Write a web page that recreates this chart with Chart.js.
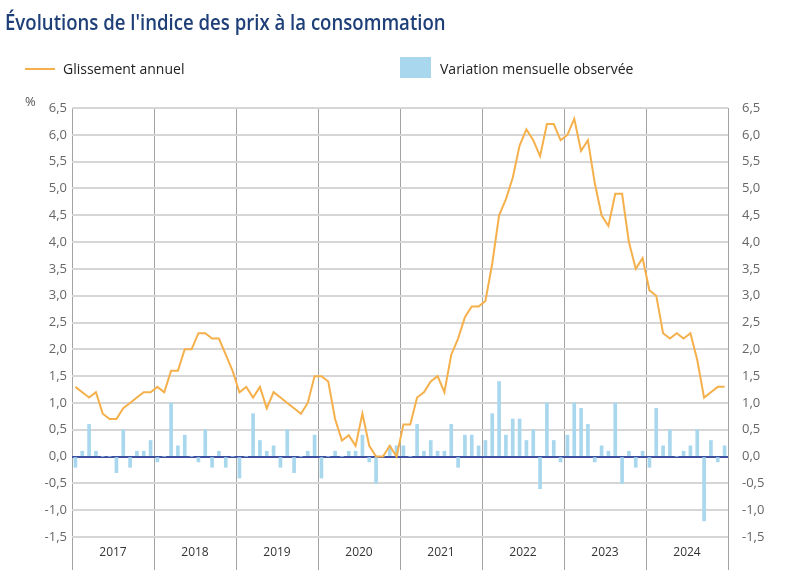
<!DOCTYPE html>
<html>
<head>
<meta charset="utf-8">
<script src="https://cdn.jsdelivr.net/npm/chart.js"></script>
<style>
  body { margin: 0; background: #fff; font-family: "Open Sans", sans-serif; }
  #wrap { position: relative; width: 800px; height: 582px; }
  #title { position: absolute; left: 5px; top: 8px; font-size: 21px; font-weight: 600; color: #1f3f78;
           transform: scaleX(0.885); transform-origin: left top; white-space: nowrap; }
  .leg { position: absolute; top: 59px; font-size: 14px; color: #222; white-space: nowrap; }
  .leg i { position: absolute; display: block; }
  #pct { position: absolute; left: 25px; top: 92px; font-size: 13px; color: #555; }
</style>
</head>
<body>
<div id="wrap">
  <div id="title">Évolutions de l'indice des prix à la consommation</div>
  <div class="leg" style="left:63px;"><i style="left:-38px;top:9px;width:30px;height:2px;background:#f5b04b;"></i>Glissement annuel</div>
  <div class="leg" style="left:440px;"><i style="left:-40px;top:-2px;width:31px;height:21px;background:#a9d7ee;"></i>Variation mensuelle observée</div>
  <div id="pct">%</div>
  <canvas id="grafik" width="800" height="582"></canvas>
</div>
<script>
const annees = ['2017', '2018', '2019', '2020', '2021', '2022', '2023', '2024'];

const glissement = [
  1.3, 1.2, 1.1, 1.2, 0.8, 0.7, 0.7, 0.9, 1.0, 1.1, 1.2, 1.2,
  1.3, 1.2, 1.6, 1.6, 2.0, 2.0, 2.3, 2.3, 2.2, 2.2, 1.9, 1.6,
  1.2, 1.3, 1.1, 1.3, 0.9, 1.2, 1.1, 1.0, 0.9, 0.8, 1.0, 1.5,
  1.5, 1.4, 0.7, 0.3, 0.4, 0.2, 0.8, 0.2, 0.0, 0.0, 0.2, 0.0,
  0.6, 0.6, 1.1, 1.2, 1.4, 1.5, 1.2, 1.9, 2.2, 2.6, 2.8, 2.8,
  2.9, 3.6, 4.5, 4.8, 5.2, 5.8, 6.1, 5.9, 5.6, 6.2, 6.2, 5.9,
  6.0, 6.3, 5.7, 5.9, 5.1, 4.5, 4.3, 4.9, 4.9, 4.0, 3.5, 3.7,
  3.1, 3.0, 2.3, 2.2, 2.3, 2.2, 2.3, 1.8, 1.1, 1.2, 1.3, 1.3
];

const mensuelle = [
  -0.2, 0.1, 0.6, 0.1, 0.0, 0.0, -0.3, 0.5, -0.2, 0.1, 0.1, 0.3,
  -0.1, 0.0, 1.0, 0.2, 0.4, 0.0, -0.1, 0.5, -0.2, 0.1, -0.2, 0.0,
  -0.4, 0.0, 0.8, 0.3, 0.1, 0.2, -0.2, 0.5, -0.3, 0.0, 0.1, 0.4,
  -0.4, 0.0, 0.1, 0.0, 0.1, 0.1, 0.4, -0.1, -0.5, 0.0, 0.2, 0.2,
  0.2, 0.0, 0.6, 0.1, 0.3, 0.1, 0.1, 0.6, -0.2, 0.4, 0.4, 0.2,
  0.3, 0.8, 1.4, 0.4, 0.7, 0.7, 0.3, 0.5, -0.6, 1.0, 0.3, -0.1,
  0.4, 1.0, 0.9, 0.6, -0.1, 0.2, 0.1, 1.0, -0.5, 0.1, -0.2, 0.1,
  -0.2, 0.9, 0.2, 0.5, 0.0, 0.1, 0.2, 0.5, -1.2, 0.3, -0.1, 0.2
];

// one label per month, e.g. 2017-01
const mois = [];
annees.forEach(a => {
  for (let m = 1; m <= 12; m++) mois.push(a + '-' + String(m).padStart(2, '0'));
});

const virgule = v => v.toFixed(1).replace('.', ',');

new Chart(
  document.getElementById('grafik'),
  {
    type: 'bar',
    data: {
      labels: mois,
      datasets: [
        {
          type: 'line',
          label: 'Glissement annuel',
          data: glissement,
          borderColor: '#f5b04b',
          borderWidth: 2,
          pointRadius: 0,
          tension: 0,
          order: 0
        },
        {
          type: 'bar',
          label: 'Variation mensuelle observée',
          data: mensuelle,
          backgroundColor: '#a9d7ee',
          barThickness: 3,
          order: 1
        }
      ]
    },
    options: {
      responsive: false,
      animation: false,
      layout: { padding: { top: 108, left: 0, right: 0, bottom: 0 } },
      plugins: {
        legend: { display: false },
        tooltip: { enabled: false }
      },
      scales: {
        x: {
          display: false,
          offset: true
        },
        xAnnee: {
          type: 'category',
          labels: annees,
          position: 'bottom',
          offset: true,
          border: { display: false },
          grid: {
            offset: true,
            color: '#a3a3a3',
            lineWidth: 1,
            tickLength: 33
          },
          ticks: {
            padding: -25,
            color: '#333',
            font: { family: 'Open Sans', size: 12 }
          },
          afterFit: scale => { scale.height = 45; }
        },
        y: {
          position: 'left',
          min: -1.5,
          max: 6.5,
          border: { display: false },
          grid: {
            drawTicks: false,
            color: ctx => ctx.tick.value === 0 ? '#3e4f9f' : '#d6d6d6',
            lineWidth: 2
          },
          ticks: {
            stepSize: 0.5,
            padding: 5,
            color: '#666',
            font: { family: 'Open Sans', size: 13 },
            callback: v => virgule(v)
          },
          afterFit: scale => { scale.width = 72; }
        },
        y1: {
          position: 'right',
          min: -1.5,
          max: 6.5,
          border: { color: '#a3a3a3', width: 1 },
          grid: { display: false, drawOnChartArea: false },
          ticks: {
            stepSize: 0.5,
            padding: 6,
            color: '#666',
            font: { family: 'Open Sans', size: 13 },
            callback: v => virgule(v)
          },
          afterFit: scale => { scale.width = 72; }
        }
      }
    }
  }
);
</script>
</body>
</html>
